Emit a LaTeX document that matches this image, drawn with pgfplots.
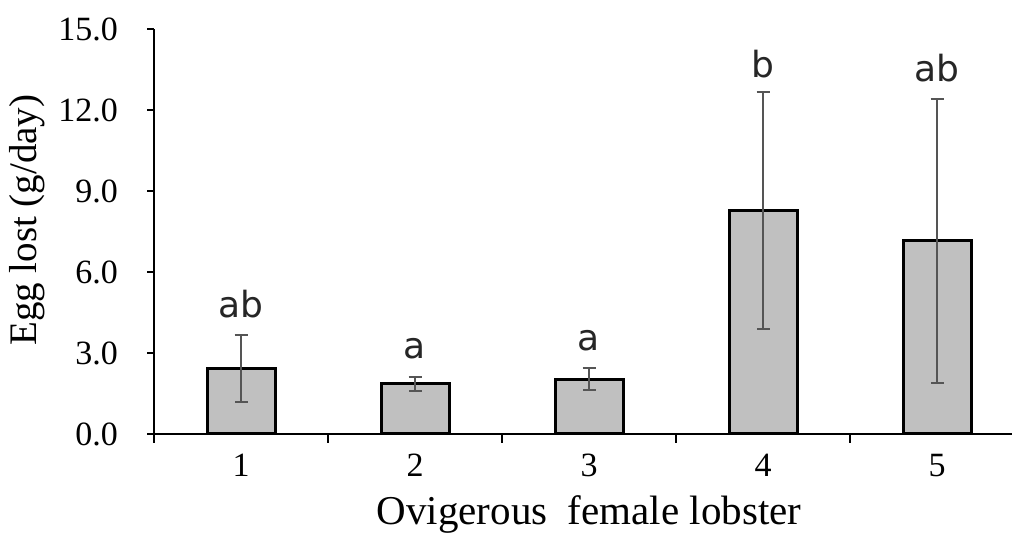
\documentclass[border=0pt]{standalone}
\usepackage{fontspec}
\setmainfont{Liberation Serif}
\newfontfamily\lettersfont{DejaVu Sans}
\usepackage{pgfplots}
\pgfplotsset{compat=1.18}
\definecolor{barfill}{RGB}{192,192,192}
\definecolor{errc}{RGB}{85,85,85}
\pgfplotstableread{
x y e ly lab
1 2.43 1.23 4.33 ab
2 1.86 0.25 2.81 a
3 2.03 0.41 3.11 a
4 8.28 4.38 13.2 b
5 7.15 5.25 13.04 ab
}\datatab
\begin{document}
\begin{tikzpicture}
\useasboundingbox (0,0) rectangle (507.5pt,269.5pt);
\begin{axis}[
  at={(77pt,52.5pt)}, anchor=south west,
  scale only axis, width=429pt, height=202.5pt,
  xmin=0.5, xmax=5.431, ymin=0, ymax=15,
  axis x line=bottom, axis y line=left,
  axis line style={line width=1pt, black, -},
  clip=false,
  ytick={0,3,...,15},
  yticklabel style={/pgf/number format/fixed, /pgf/number format/fixed zerofill, /pgf/number format/precision=1, xshift=-11pt},
  xtick={1,2,3,4,5},
  minor xtick={0.5,1.5,2.5,3.5,4.5},
  major x tick style={draw=none},
  tick align=outside,
  major tick length=3.5pt,
  minor tick length=4.5pt,
  tick style={line width=1pt, black},
  /pgf/number format/assume math mode=true,
  ticklabel style={font=\fontsize{17}{20}\selectfont},
  xticklabel style={yshift=-3pt},
  xlabel={Ovigerous\ \ female lobster},
  xlabel style={at={(axis description cs:0.507,0)}, anchor=base, yshift=-45.5pt, font=\fontsize{20.5}{24}\selectfont},
  ylabel={Egg lost (g/day)},
  ylabel style={at={(axis description cs:-0.1364,0.528)}, anchor=base, font=\fontsize{19.5}{22}\selectfont},
]
\addplot[ybar, bar width=34pt, fill=barfill, draw=black, line width=1.5pt,
  error bars/.cd, y dir=both, y explicit,
  error bar style={line width=1pt, errc},
  error mark options={rotate=90, mark size=3.25pt, line width=1pt, errc}]
  table[x=x, y=y, y error=e] {\datatab};
\addplot[draw=none, mark=none, nodes near coords, point meta=explicit symbolic,
  every node near coord/.append style={anchor=base, inner sep=0pt, font=\lettersfont\fontsize{18}{20}\selectfont, text=black!85}]
  table[x=x, y=ly, meta=lab] {\datatab};
\end{axis}
\end{tikzpicture}
\end{document}
